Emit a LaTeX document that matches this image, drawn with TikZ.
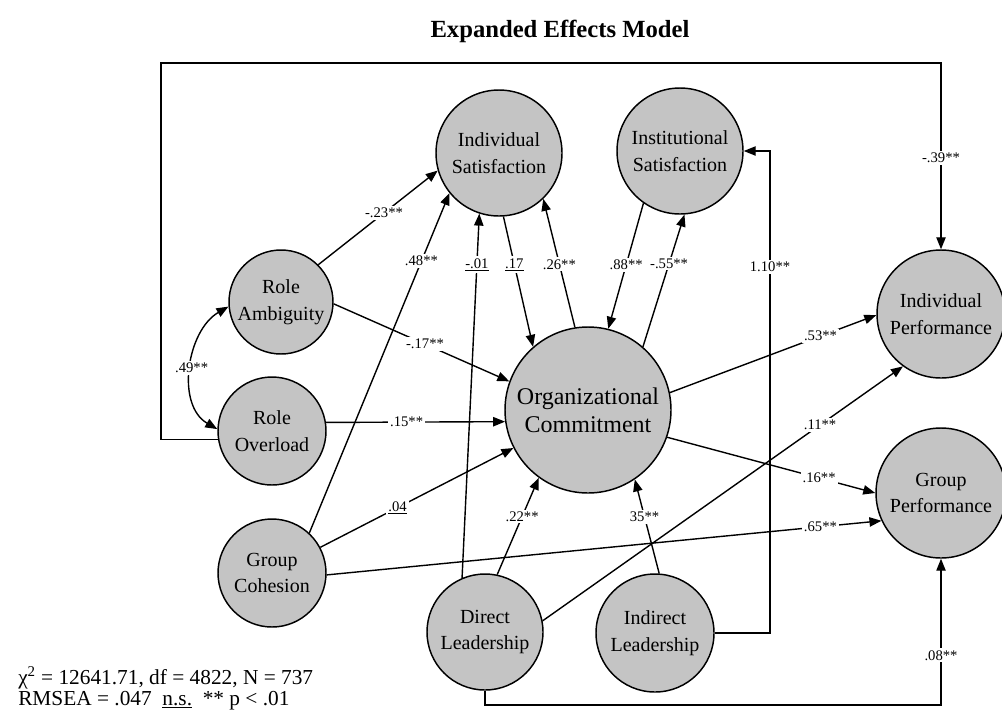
\documentclass[tikz,border=0pt]{standalone}
\usepackage{fontspec}
\setmainfont{Liberation Serif}
\usepackage{tikz}
\usetikzlibrary{arrows.meta}
\definecolor{latentgray}{RGB}{196,196,196}

\begin{document}
\begin{tikzpicture}[
    x=0.75pt, y=0.75pt,
    >={Triangle[length=9pt,width=7pt]},
    latent/.style={circle, draw, line width=1.1pt, fill=latentgray, inner sep=0pt, align=center, font=\fontsize{15}{20}\selectfont},
    effect/.style={->, line width=1.05pt},
    coef/.style={fill=white, inner sep=1.5pt, font=\fontsize{11}{11}\selectfont}
]
    \useasboundingbox (0,0) rectangle (1002,-718);

    % Title
    \node[font=\fontsize{18.5}{18.5}\selectfont\bfseries, anchor=base] (title) at (560,-37) {Expanded Effects Model};

    % Satisfaction
    \node[latent, minimum size=94.5pt] (is) at (499,-153) {Individual\\Satisfaction};
    \node[latent, minimum size=94.5pt] (ins) at (680,-151) {Institutional\\Satisfaction};

    % Role stress and cohesion
    \node[latent, minimum size=78pt] (ra) at (281,-302) {Role\\Ambiguity};
    \node[latent, minimum size=81pt] (ro) at (272,-431) {Role\\Overload};
    \node[latent, minimum size=81pt] (gc) at (272,-573) {Group\\Cohesion};

    % Commitment
    \node[latent, minimum size=124.5pt, font=\fontsize{18}{21}\selectfont] (oc) at (588,-410) {Organizational\\Commitment};

    % Leadership
    \node[latent, minimum size=87pt] (dl) at (485,-632) {Direct\\Leadership};
    \node[latent, minimum size=88.5pt] (il) at (655,-633) {Indirect\\Leadership};

    % Performance
    \node[latent, minimum size=96pt] (ip) at (941,-314) {Individual\\Performance};
    \node[latent, minimum size=97.5pt] (gp) at (941,-493) {Group\\Performance};

    % Paths into satisfaction and commitment
    \draw[effect] (ra.45) -- node[coef, pos=0.55] {-.23**} (is.196);
    \draw[effect] (gc.47) -- node[coef, pos=0.8] {.48**} (is.219);
    \draw[effect] (dl.113) -- node[coef, pos=0.86] {\underline{-.01}} (is.252);
    \draw[effect] (is.274) -- node[coef, pos=0.37] {\underline{.17}} (oc.131);
    \draw[effect] (oc.99) -- node[coef, pos=0.49] {.26**} (is.314);
    \draw[effect] (ins.235) -- node[coef, pos=0.49] {.88**} (oc.76);
    \draw[effect] (oc.49) -- node[coef, pos=0.63] {-.55**} (ins.274);
    \draw[<->, line width=1.05pt] (ra.185) to[out=210, in=150] node[coef] {.49**} (ro.178);
    \draw[effect] (ra.-2) -- node[coef, pos=0.52] {-.17**} (oc.160);
    \draw[effect] (ro.9) -- node[coef, pos=0.45] {.15**} (oc.188);
    \draw[effect] (gc.28) -- node[coef, pos=0.4] {\underline{.04}} (oc.207);
    \draw[effect] (dl.78) -- node[coef, pos=0.6] {.22**} (oc.234);
    \draw[effect] (il.86) -- node[coef, pos=0.6] {35**} (oc.304);

    % Paths into performance
    \draw[effect] (gc.-2) -- node[coef, pos=0.89] {.65**} (gp.205);
    \draw[effect] (oc.12) -- node[coef, pos=0.73] {.53**} (ip.181);
    \draw[effect] (dl.11) -- node[coef, pos=0.77] {.11**} (ip.234);
    \draw[effect] (oc.-19) -- node[coef, pos=0.73] {.16**} (gp.180);

    % Long way round
    \coordinate (topleft) at (161,-63);
    \coordinate (topright) at (941,-63);
    \coordinate (botright) at (941,-705);
    \coordinate (rightbend) at (770,-151);
    \draw[effect] (ro.189) -| (topleft) -- (topright) -- node[coef, pos=0.51] {-.39**} (ip.north);
    \draw[effect] (dl.south) |- (botright) -- node[coef, pos=0.34] {.08**} (gp.south);
    \draw[effect] (il.east) -| node[coef, pos=0.88] {1.10**} (rightbend) -- (ins.east);

    % Fit statistics
    \node[anchor=west, align=left, inner sep=0pt, font=\fontsize{16}{15.75}\selectfont] (stats) at (18,-688) {χ\textsuperscript{2} = 12641.71, df = 4822, N = 737\\RMSEA = .047 \ \underline{n.s.} \ ** p < .01};
\end{tikzpicture}
\end{document}
